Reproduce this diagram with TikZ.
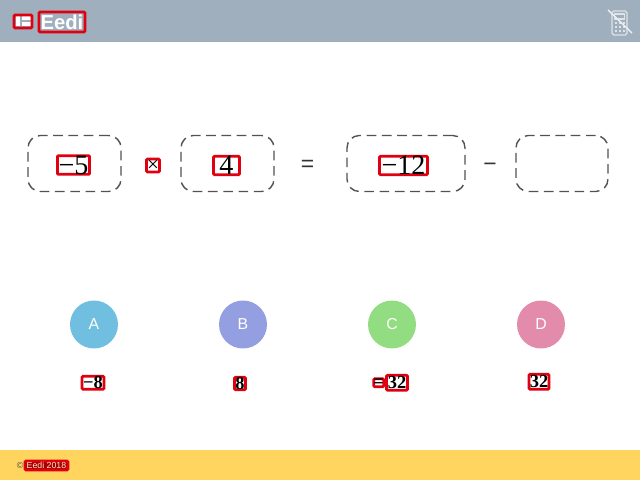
\documentclass[tikz,border=0pt]{standalone}
\usepackage{fontspec}
\setmainfont{Liberation Serif}
\setsansfont{Liberation Sans}
\usetikzlibrary{positioning}

\definecolor{headergray}{HTML}{A0AFBD}
\definecolor{footeryellow}{HTML}{FFD55F}
\definecolor{markred}{HTML}{E0000F}
\definecolor{optA}{HTML}{70BFE0}
\definecolor{optB}{HTML}{939FE0}
\definecolor{optC}{HTML}{92DD82}
\definecolor{optD}{HTML}{E38BAB}

\begin{document}
\begin{tikzpicture}[
		x=0.02cm, y=-0.02cm,
		% Styles for the dashed answer boxes
		slot/.style={
			draw=black!68, line width=0.8pt, rounded corners=7pt,
			dash pattern=on 5.5pt off 3.2pt,
			minimum height=1.12cm, inner sep=0pt
		},
		% Style for the red marks around the printed terms
		mark_box/.style={
			draw=markred, line width=1.6pt, rounded corners=0.6pt,
			inner sep=0pt, text=black, font=\fontsize{16}{17}\selectfont
		},
		option_mark/.style={mark_box, text=black, font=\bfseries\fontsize{10.5}{11}\selectfont},
		% Style for the option discs
		disc/.style={
			circle, minimum size=0.96cm, inner sep=0pt, text=white,
			font=\sffamily\fontsize{9}{10}\selectfont
		},
		sign/.style={anchor=base, inner sep=0pt, font=\sffamily\fontsize{13}{14}\selectfont, text=black!80}
		]
		
		\useasboundingbox (0,0) rectangle (640,480);
		
		% ==========================================
		% 1. THE BANDS: Header & Footer
		% ==========================================
		\fill[headergray] (0,0) rectangle (640,42);
		\fill[footeryellow] (0,450) rectangle (640,480);
		
		% Logo
		\fill[white] (16,15) rectangle (32,26);
		\fill[headergray] (20,15) rectangle (22,26);
		\fill[headergray] (22,19.5) rectangle (32,21.5);
		\node[mark_box, minimum width=0.36cm, minimum height=0.26cm] (logomark) at (23,21.5) {};
		\node[mark_box, minimum width=0.92cm, minimum height=0.4cm, text=white,
			font=\sffamily\bfseries\fontsize{11.5}{13}\selectfont] (brand) at (62,22) {Eedi};
		
		% Crossed calculator
		\draw[white!65!headergray, line width=0.7pt, rounded corners=1pt] (612,11) rectangle (627,35);
		\draw[white!65!headergray, line width=0.7pt] (614.5,14) rectangle (624.5,19);
		\foreach \col in {616,620,624} {
			\foreach \row in {23,27,31} {
				\fill[white!65!headergray] (\col-0.7,\row-0.7) rectangle (\col+0.7,\row+0.7);
			}
		}
		\draw[white!80!headergray, line width=0.8pt] (608,10) -- (632,33);
		
		% Footer text
		\node[inner sep=0pt, text=black!70, font=\sffamily\fontsize{5}{6}\selectfont] (copy) at (20,465) {©};
		\node[mark_box, fill=markred!75!black, minimum width=0.86cm, minimum height=0.18cm, text=footeryellow!50!white,
			font=\sffamily\fontsize{5}{6}\selectfont] (footer) at (46.5,465.5) {Eedi 2018};
		
		% ==========================================
		% 2. THE EQUATION: Slots & Terms
		% ==========================================
		\node[slot, minimum width=1.86cm] (slotA) at (74.5,163.5) {};
		\node[slot, minimum width=1.86cm] (slotB) at (227.5,163.5) {};
		\node[slot, minimum width=2.36cm] (slotC) at (406,163.5) {};
		\node[slot, minimum width=1.84cm] (slotD) at (562,163.5) {};
		
		\node[mark_box, minimum width=0.64cm, minimum height=0.36cm] (termA) at (73.5,165) {−5};
		\node[mark_box, minimum width=0.26cm, minimum height=0.26cm,
			font=\fontsize{12}{13}\selectfont] (times) at (153,165.5) {×};
		\node[mark_box, minimum width=0.52cm, minimum height=0.36cm] (termB) at (226.5,165.5) {4};
		\node[mark_box, minimum width=0.96cm, minimum height=0.36cm] (termC) at (403.5,165.5) {−12};
		
		\node[sign] (equals) at (307.5,172) {=};
		\node[sign] (minus) at (490,172) {−};
		
		% ==========================================
		% 3. THE OPTIONS: Discs & Values
		% ==========================================
		\node[disc, fill=optA] (discA) at (94,324.5) {A};
		\node[disc, fill=optB] (discB) at (243,324.5) {B};
		\node[disc, fill=optC] (discC) at (392,324.5) {C};
		\node[disc, fill=optD] (discD) at (541,324.5) {D};
		
		\node[option_mark, minimum width=0.44cm, minimum height=0.26cm, below=0.52cm of discA, xshift=-0.02cm] (valueA) {−8};
		\node[option_mark, minimum width=0.22cm, minimum height=0.25cm, below=0.54cm of discB, xshift=-0.06cm] (valueB) {8};
		\node[option_mark, minimum width=0.42cm, minimum height=0.3cm, below=0.5cm of discC, xshift=0.1cm] (valueC) {32};
		\node[mark_box, minimum width=0.2cm, minimum height=0.16cm, left=0cm of valueC] (signC) {};
		\node[inner sep=0pt, font=\bfseries\fontsize{10.5}{11}\selectfont] (signtextC) at (signC) {=};
		\node[option_mark, minimum width=0.4cm, minimum height=0.3cm, below=0.48cm of discD, xshift=-0.04cm] (valueD) {32};
		
\end{tikzpicture}
\end{document}
